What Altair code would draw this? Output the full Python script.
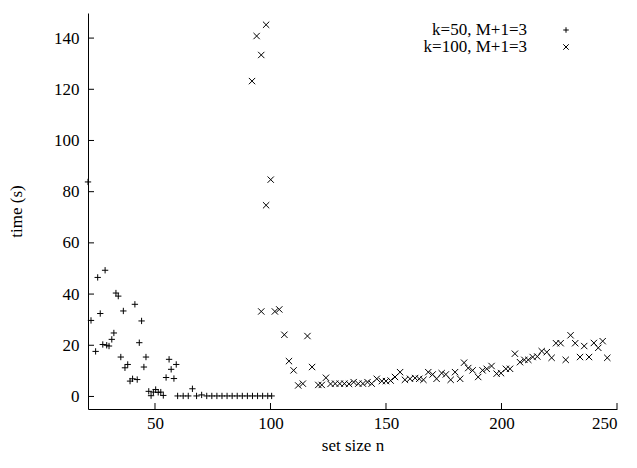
import pandas as pd
import altair as alt

# k=50, M+1=3
x50 = [21, 22.3, 24.3, 25.2, 26.3, 28.4, 27.4, 29.1, 30.1, 31.3, 32.2, 33.1, 34.1, 35.2, 36.3, 37, 38.2,
       39.2, 40.3, 41.3, 42.3, 43.2, 44.2, 45.2, 46.1, 47.3, 48.3, 49.3, 50.3, 51.4, 52.5, 53.6, 54.8,
       56.1, 57, 58.2, 59.2, 59.8, 62.2, 64.4, 66.2, 68, 70.2, 72.4, 74.6, 76.8, 79, 81.2, 83.4, 85.6,
       87.8, 90, 92.2, 94.4, 96.6, 98.8, 100.5]
y50 = [83.8, 29.7, 17.6, 46.5, 32.4, 49.3, 20.3, 20, 19.7, 22.3, 24.8, 40.4, 39.2, 15.4, 33.4, 11.2, 12.5,
       6, 6.9, 36, 6.6, 21, 29.5, 11.5, 15.4, 2, 0.3, 1.7, 2.7, 1.6, 1.7, 0.4, 7.4,
       14.5, 10.6, 7, 12.5, 0.2, 0.2, 0.2, 3, 0.2, 0.6, 0.2, 0.2, 0.2, 0.2, 0.2, 0.2, 0.2,
       0.2, 0.2, 0.2, 0.2, 0.2, 0.2, 0.2]

# k=100, M+1=3
x100 = [92, 94, 96, 98.1, 98.1, 100.1, 96, 101.9, 103.8, 106, 108, 110, 112, 114, 116, 118, 120.7, 122.2,
        124, 126, 128, 130, 132, 134, 136, 138, 140, 142, 143.8, 146, 148.2, 150, 152, 153.9, 156.1,
        158.2, 160.4, 162.6, 164.4, 166.2, 168.3, 170.2, 171.9, 174.1, 175.9, 178, 179.9, 182.1, 183.8,
        185.6, 187.5, 189.9, 191.8, 193.6, 195.7, 197.9, 199.8, 201.9, 203.7, 205.8, 208, 209.9, 211.6,
        213.5, 215.5, 217.4, 219.6, 221.7, 223.6, 225.6, 227.8, 229.9, 231.9, 234, 235.8, 237.9, 240,
        241.9, 243.8, 245.8]
y100 = [123.2, 140.8, 133.4, 145.2, 74.7, 84.7, 33.2, 33.2, 34, 24.1, 13.8, 10.2, 4.3, 5, 23.6, 11.5, 4.5, 4.5,
        7.3, 4.9, 5, 5, 5, 4.9, 5.6, 5, 5, 5.6, 5, 6.9, 6, 6, 6.2, 7.6, 9.5,
        6.5, 6.9, 7.2, 6.9, 6.5, 9.5, 8.6, 6.9, 9.1, 8.6, 6.5, 9.5, 6.9, 13.2,
        11.1, 10.2, 7.6, 10.2, 10.8, 11.9, 8.9, 9.1, 10.8, 10.8, 16.7, 13.4, 14.3, 14.3,
        15.4, 15.6, 17.7, 17.3, 15.1, 20.8, 20.8, 14.3, 23.9, 20.8, 15.4, 19.7, 15.4, 20.9,
        19, 21.6, 15.1]

xticks = [50, 100, 150, 200, 250]
yticks = [0, 20, 40, 60, 80, 100, 120, 140]
labels = ["k=50, M+1=3", "k=100, M+1=3"]

PLUS = "M-1,0L1,0M0,-1L0,1"
CROSS = "M-1,-1L1,1M-1,1L1,-1"
FONT = "Liberation Serif"

df = pd.concat([
    pd.DataFrame({"n": x50, "t": y50, "s": labels[0]}),
    pd.DataFrame({"n": x100, "t": y100, "s": labels[1]}),
])

xs = alt.Scale(domain=[21, 250], nice=False)
ys = alt.Scale(domain=[-4.9, 149.8], nice=False)
shp = alt.Scale(domain=labels, range=[PLUS, CROSS])

pts = alt.Chart(df).mark_point(filled=False, strokeWidth=1, color="black", size=40, opacity=1).encode(
    x=alt.X("n:Q", scale=xs, title="set size n",
            axis=alt.Axis(values=xticks, ticks=False, grid=False, labelPadding=6)),
    y=alt.Y("t:Q", scale=ys, title="time (s)",
            axis=alt.Axis(values=yticks, ticks=False, grid=False, labelPadding=9)),
    shape=alt.Shape("s:N", scale=shp, legend=None),
)

xt = alt.Chart(pd.DataFrame({"v": xticks})).mark_rule(color="black").encode(
    x=alt.X("v:Q", scale=xs), y=alt.value(396), y2=alt.value(390))
yt = alt.Chart(pd.DataFrame({"v": yticks})).mark_rule(color="black").encode(
    y=alt.Y("v:Q", scale=ys), x=alt.value(0), x2=alt.value(6))

legend = []
for i, lab in enumerate(labels):
    d = pd.DataFrame({"s": [lab]})
    legend.append(alt.Chart(d).mark_text(align="right", baseline="middle", font=FONT, fontSize=17).encode(
        text="s:N", x=alt.value(439), y=alt.value(17 + 17 * i)))
    legend.append(alt.Chart(d).mark_point(filled=False, strokeWidth=1, color="black", size=30, opacity=1).encode(
        x=alt.value(478), y=alt.value(17 + 17 * i), shape=alt.Shape("s:N", scale=shp, legend=None)))

chart = alt.layer(pts, xt, yt, *legend).properties(
    width=529, height=396, autosize="none",
    padding={"left": 80, "top": 5, "right": 12, "bottom": 51},
).configure_view(stroke=None).configure_axis(
    domainColor="black", labelFont=FONT, titleFont=FONT, labelFontSize=17, titleFontSize=17,
    labelColor="black", titleColor="black", titleFontWeight="normal",
).configure_axisY(titlePadding=28).configure_axisX(titlePadding=6)

chart.save("out.html", embed_options={"renderer": "svg", "actions": False})
